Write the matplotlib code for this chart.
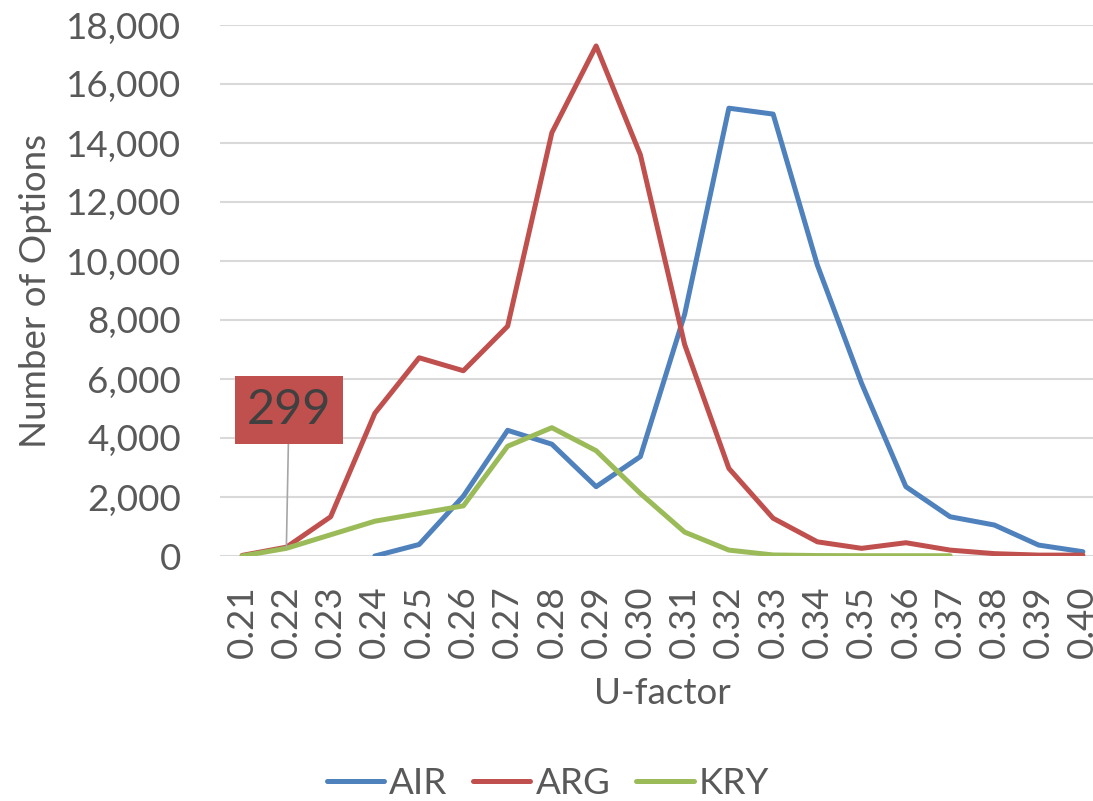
import numpy as np
import matplotlib
matplotlib.use("Agg")
import matplotlib.pyplot as plt

categories = ["0.21", "0.22", "0.23", "0.24", "0.25", "0.26", "0.27", "0.28", "0.29", "0.30",
              "0.31", "0.32", "0.33", "0.34", "0.35", "0.36", "0.37", "0.38", "0.39", "0.40"]
air = [np.nan, np.nan, np.nan, 0, 390, 2030, 4260, 3790, 2350, 3370,
       8190, 15180, 14980, 9860, 5850, 2350, 1330, 1050, 370, 145]
arg = [20, 299, 1330, 4840, 6720, 6280, 7790, 14350, 17290, 13600,
       7170, 2970, 1280, 480, 260, 450, 200, 80, 30, 30]
kry = [0, 260, 720, 1180, 1440, 1700, 3720, 4350, 3570, 2120,
       810, 200, 35, 15, 10, 10, 8, np.nan, np.nan, np.nan]
series_names = ["AIR", "ARG", "KRY"]
colors = ["#4F81BD", "#C0504D", "#9BBB59"]
yticks = [0, 2000, 4000, 6000, 8000, 10000, 12000, 14000, 16000, 18000]

plt.rcParams['font.family'] = ['Lato', 'DejaVu Sans']
W, H = 1093, 801
FS = 26.5
fig = plt.figure(figsize=(W / 100, H / 100), dpi=100)
ax = fig.add_axes([220 / W, (H - 556) / H, 885 / W, 531 / H])

x = np.arange(len(categories))
for name, vals, c in zip(series_names, [air, arg, kry], colors):
    ax.plot(x, vals, color=c, lw=3.6, label=name, solid_capstyle='round', solid_joinstyle='round')

ax.set_xlim(-0.5, len(categories) - 0.5)
ax.set_ylim(0, 18000)
ax.set_yticks(yticks)
ax.set_yticklabels([f"{v:,}" for v in yticks])
ax.set_xticks(x)
ax.set_xticklabels(categories, rotation=90)
ax.tick_params(axis='both', length=0, labelsize=FS, colors='#595959')
ax.tick_params(axis='y', pad=28)
ax.tick_params(axis='x', pad=21)
ax.grid(axis='y', color='#D9D9D9', lw=1.5)
ax.set_axisbelow(True)
for s in ax.spines.values():
    s.set_visible(False)

ax.set_ylabel("Number of Options", fontsize=FS, color='#595959', labelpad=10)
ax.set_xlabel("U-factor", fontsize=FS, color='#595959', labelpad=14)

ax.annotate(f"{arg[1]:,}", xy=(1, arg[1]), xytext=(1.06, 4950),
            ha='center', va='center', fontsize=35, color='#404040',
            bbox=dict(boxstyle='square,pad=0.24', fc='#C0504D', ec='none'),
            arrowprops=dict(arrowstyle='-', color='#A6A6A6', lw=1.2, shrinkA=0, shrinkB=0))

fig.legend(loc='center', bbox_to_anchor=(548 / W, (H - 783) / H), ncol=3, frameon=False,
           fontsize=FS, labelcolor='#595959', handlelength=1.55, columnspacing=0.7,
           handletextpad=0.15)

fig.savefig("out.png", dpi=100)
